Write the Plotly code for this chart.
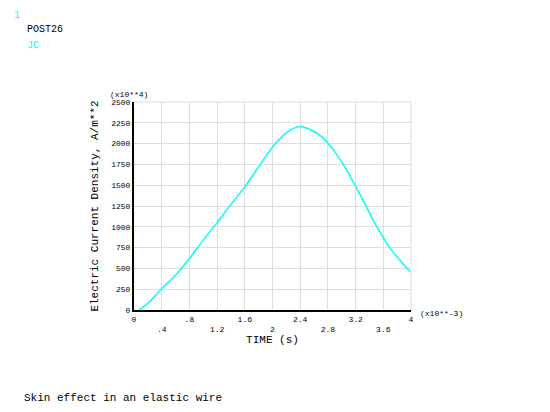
import plotly.graph_objects as go

# TIME (x10**-3 s) and JC (x10**4 A/m**2)
time_s = [0.07, 0.2, 0.38, 0.6, 0.8, 1.0, 1.2, 1.4, 1.6, 1.8, 2.0, 2.2, 2.36, 2.5, 2.7, 2.9, 3.1, 3.3, 3.5, 3.7, 3.85, 4.0]
jc = [0, 80, 240, 420, 620, 840, 1050, 1270, 1480, 1720, 1960, 2130, 2200, 2185, 2090, 1900, 1640, 1330, 1010, 740, 590, 450]

x_ticks = [0, 0.4, 0.8, 1.2, 1.6, 2.0, 2.4, 2.8, 3.2, 3.6, 4.0]
x_labels = ["0", "<br>.4", ".8", "<br>1.2", "1.6", "<br>2", "2.4", "<br>2.8", "3.2", "<br>3.6", "4"]
y_ticks = list(range(0, 2501, 250))

mono = "Liberation Mono"
W, H = 534, 396
L, R, T, B = 126, 131, 94, 94

fig = go.Figure()
fig.add_trace(go.Scatter(x=time_s, y=jc, mode="lines", line=dict(color="#00ffff", width=1.5, shape="spline", smoothing=0.8)))

pw, ph = W - L - R, H - T - B


def px2paper(px, py):
    return (px - L) / pw, 1 - (py - T) / ph


fx0, fy1 = px2paper(-5, -5)
fx1, fy0 = px2paper(537, 399)

fig.update_layout(
    width=W, height=H,
    margin=dict(l=L, r=R, t=T, b=B),
    paper_bgcolor="white", plot_bgcolor="white",
    showlegend=False,
    font=dict(family=mono, size=8, color="black"),
    xaxis=dict(range=[0, 4], tickvals=x_ticks, ticktext=x_labels, showgrid=True, gridcolor="#dddddd",
               showline=True, linecolor="black", linewidth=2, zeroline=False, ticks="",
               title=dict(text="TIME (s)", font=dict(size=11), standoff=0)),
    yaxis=dict(range=[0, 2500], tickvals=y_ticks, showgrid=True, gridcolor="#dddddd",
               showline=True, linecolor="black", linewidth=2, zeroline=False, ticks="",
               title=dict(text="Electric Current Density, A/m**2", font=dict(size=11), standoff=10)),
    shapes=[dict(type="rect", xref="paper", yref="paper", x0=fx0, x1=fx1, y0=fy0, y1=fy1,
                 line=dict(color="#aaaaaa", width=2)),
            dict(type="line", xref="paper", yref="paper", x0=1, x1=1, y0=0, y1=1,
                 line=dict(color="#dddddd", width=1)),
            dict(type="line", xref="paper", yref="paper", x0=0, x1=1, y0=1, y1=1,
                 line=dict(color="#dddddd", width=1))],
)

notes = [
    ("1", 4, 0, 10, "#00ffff"),
    ("POST26", 17, 14, 10, "black"),
    ("JC", 17, 30, 10, "#00ffff"),
    ("(x10**4)", 100, 80, 8, "black"),
    ("(x10**-3)", 410, 299, 8, "black"),
    ("Skin effect in an elastic wire", 14, 382, 11, "black"),
]
for text, px, py, size, color in notes:
    ax, ay = px2paper(px, py)
    fig.add_annotation(text=text, x=ax, y=ay, xref="paper", yref="paper", xanchor="left", yanchor="top",
                       showarrow=False, font=dict(family=mono, size=size, color=color))

fig.write_html("out.html")
